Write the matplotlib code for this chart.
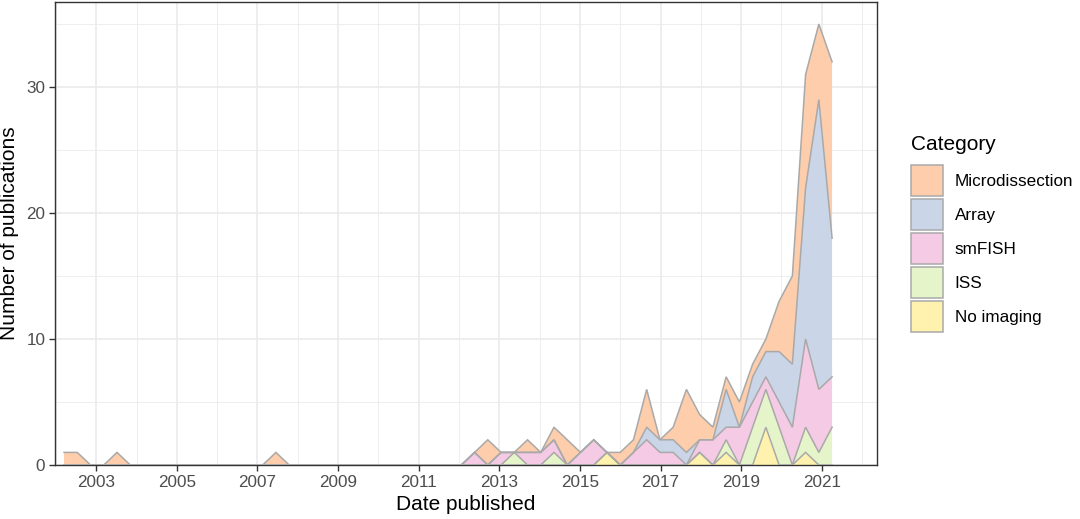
import matplotlib
matplotlib.use("Agg")
import matplotlib.pyplot as plt
import matplotlib.dates as mdates
import numpy as np
import pandas as pd
from matplotlib.patches import Patch

plt.rcParams['font.family'] = ['Liberation Sans', 'DejaVu Sans']

# publication counts per 120-day bin, first bin mid March 2002
dates = pd.date_range('2002-03-15', periods=59, freq='120D')

microdissection = [1, 1, 0, 0, 1, 0, 0, 0, 0, 0,
                   0, 0, 0, 0, 0, 0, 1, 0, 0, 0,
                   0, 0, 0, 0, 0, 0, 0, 0, 0, 0,
                   0, 0, 2, 0, 0, 1, 0, 1, 2, 0,
                   0, 0, 1, 1, 3, 0, 1, 5, 2, 1,
                   1, 2, 1, 1, 4, 7, 9, 6, 14]
array = [0, 0, 0, 0, 0, 0, 0, 0, 0, 0,
         0, 0, 0, 0, 0, 0, 0, 0, 0, 0,
         0, 0, 0, 0, 0, 0, 0, 0, 0, 0,
         0, 0, 0, 0, 0, 0, 0, 0, 0, 0,
         0, 0, 0, 0, 1, 1, 1, 1, 0, 0,
         3, 0, 2, 2, 4, 5, 12, 23, 11]
smfish = [0, 0, 0, 0, 0, 0, 0, 0, 0, 0,
          0, 0, 0, 0, 0, 0, 0, 0, 0, 0,
          0, 0, 0, 0, 0, 0, 0, 0, 0, 0,
          0, 1, 0, 1, 0, 1, 1, 1, 0, 1,
          2, 0, 0, 1, 2, 1, 1, 0, 1, 2,
          1, 3, 2, 1, 2, 3, 7, 5, 4]
iss = [0, 0, 0, 0, 0, 0, 0, 0, 0, 0,
       0, 0, 0, 0, 0, 0, 0, 0, 0, 0,
       0, 0, 0, 0, 0, 0, 0, 0, 0, 0,
       0, 0, 0, 0, 1, 0, 0, 1, 0, 0,
       0, 0, 0, 0, 0, 0, 0, 0, 0, 0,
       1, 0, 3, 3, 3, 0, 2, 1, 3]
no_imaging = [0, 0, 0, 0, 0, 0, 0, 0, 0, 0,
              0, 0, 0, 0, 0, 0, 0, 0, 0, 0,
              0, 0, 0, 0, 0, 0, 0, 0, 0, 0,
              0, 0, 0, 0, 0, 0, 0, 0, 0, 0,
              0, 1, 0, 0, 0, 0, 0, 0, 1, 0,
              1, 0, 0, 3, 0, 0, 1, 0, 0]

categories = ['Microdissection', 'Array', 'smFISH', 'ISS', 'No imaging']
colors = ['#FDCDAC', '#CBD5E8', '#F4CAE4', '#E6F5C9', '#FFF2AE']
outline = '#A9A9A9'

major_years = [2003, 2005, 2007, 2009, 2011, 2013, 2015, 2017, 2019, 2021]
minor_years = [2002, 2004, 2006, 2008, 2010, 2012, 2014, 2016, 2018, 2020, 2022]

fig = plt.figure(figsize=(10.8, 5.19), dpi=100)
ax = fig.add_axes([55 / 1080, 1 - 465 / 519, 822 / 1080, 463 / 519])

# stack from the bottom: No imaging first, Microdissection on top
stack = [no_imaging, iss, smfish, array, microdissection]
stack_colors = colors[::-1]
x = mdates.date2num(dates)
base = np.zeros(len(x))
tops = []
for vals, col in zip(stack, stack_colors):
    top = base + np.array(vals)
    ax.fill_between(x, base, top, facecolor=col, edgecolor='none', zorder=2)
    tops.append(top)
    base = top
for top in tops:
    ax.plot(x, top, color=outline, lw=1.1, zorder=3, solid_joinstyle='miter')

ax.set_xlim(mdates.date2num(pd.Timestamp('2001-12-23')),
            mdates.date2num(pd.Timestamp('2022-05-16')))
ax.set_ylim(0, 36.75)

ax.set_xticks(mdates.date2num([pd.Timestamp(f'{y}-01-01') for y in major_years]))
ax.set_xticklabels([str(y) for y in major_years])
ax.set_xticks(mdates.date2num([pd.Timestamp(f'{y}-01-01') for y in minor_years]),
              minor=True)
ax.set_yticks([0, 10, 20, 30])
ax.set_yticks([5, 15, 25, 35], minor=True)

ax.grid(True, which='major', color='#EBEBEB', lw=1.2, zorder=0)
ax.grid(True, which='minor', color='#EBEBEB', lw=0.6, zorder=0)
ax.set_axisbelow(True)
ax.tick_params(which='major', length=4, width=1, color='#333333',
               labelcolor='#4D4D4D', labelsize=12.3, pad=3)
ax.tick_params(which='minor', length=0)
for s in ax.spines.values():
    s.set_color('#333333')
    s.set_linewidth(1)

ax.set_xlabel('Date published', fontsize=15, labelpad=4)
ax.set_ylabel('Number of publications', fontsize=15, labelpad=5)

# legend: title as separate text so the gap above the keys matches
fig.text(911 / 1080, 1 - 145 / 519, 'Category', fontsize=15,
         ha='left', va='center')
handles = [Patch(facecolor=c, edgecolor=outline, lw=1.1) for c in colors]
fig.legend(handles, categories, loc='upper left',
           bbox_to_anchor=(911 / 1080, 1 - 165 / 519), frameon=False,
           borderaxespad=0, borderpad=0,
           fontsize=12.3, handlelength=1.85,
           handleheight=2.4, labelspacing=0.19, handletextpad=0.7)

fig.savefig('out.png', dpi=100)
